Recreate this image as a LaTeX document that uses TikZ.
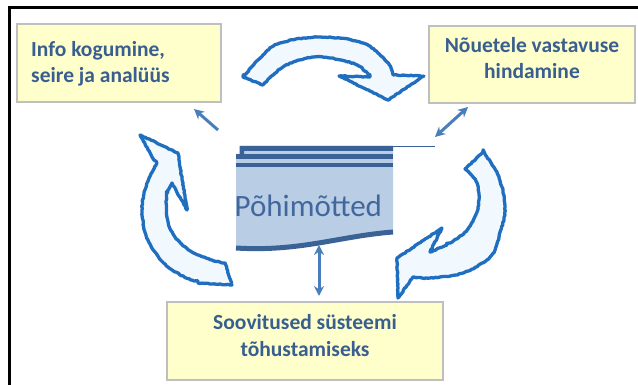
\documentclass[tikz,border=0pt]{standalone}
\usepackage{fontspec}
\setmainfont{Carlito}
\usetikzlibrary{arrows.meta,decorations.pathmorphing}
\definecolor{boxfill}{HTML}{FFFFCC}
\definecolor{boxline}{HTML}{BFBFBF}
\definecolor{txtblue}{HTML}{385F8F}
\definecolor{docfill}{HTML}{B9CDE5}
\definecolor{docdark}{HTML}{3B6296}
\definecolor{doctext}{HTML}{41679C}
\definecolor{arrblue}{HTML}{4A7EBB}
\definecolor{blkline}{HTML}{1F6EBF}
\definecolor{blkfill}{HTML}{F1F8FE}
\begin{document}
\begin{tikzpicture}[x=1pt,y=-1pt,
  ybox/.style={draw=boxline, fill=boxfill, line width=2.5pt, rectangle, inner sep=0pt},
  boxtxt/.style={text=txtblue, font=\fontsize{21.5}{26}\selectfont\bfseries, inner sep=0pt},
  blockarrow/.style={draw=blkline, fill=blkfill, line width=3.3pt, line join=round,
    decorate, decoration={random steps, segment length=2pt, amplitude=0.45pt}},
  linkone/.style={draw=arrblue, line width=3pt, -{Stealth[length=10pt,width=10pt]}},
  linktwo/.style={draw=arrblue, line width=3pt, {Stealth[length=10pt,width=10pt]}-{Stealth[length=10pt,width=10pt]}}
]
\useasboundingbox (0,0) rectangle (638,385);
\fill[white] (0,0) rectangle (638,385);
% frame
\draw[line width=3pt] (9,387) -- (9,8) -- (640,8);

% boxes
\node[ybox, minimum width=204pt, minimum height=78pt] (info) at (119,63) {};
\node[ybox, minimum width=206pt, minimum height=77pt] (nou) at (532,64.5) {};
\node[ybox, minimum width=276pt, minimum height=78pt] (soo) at (305,341) {};
\node[boxtxt, anchor=base west] (info1) at (31,57) {Info kogumine,};
\node[boxtxt, anchor=base west] (info2) at (31,83) {seire ja analüüs};
\node[boxtxt, anchor=base] (nou1) at (532,53) {Nõuetele vastavuse};
\node[boxtxt, anchor=base] (nou2) at (532,79) {hindamine};
\node[boxtxt, anchor=base] (soo1) at (305,329) {Soovitused süsteemi};
\node[boxtxt, anchor=base] (soo2) at (305,356) {tõhustamiseks};

% central document shape
\fill[docfill] (240,146) -- (393,146) -- (393,232)
  .. controls (340,236) and (300,252) .. (236,248) -- (236,154) -- (240,154) -- cycle;
\fill[docdark] (239.5,156) -- (239.5,146) -- (393,146) -- (393,151) -- (244,151) -- (244,156) -- cycle;
\fill[docdark] (236,154.5) rectangle (393,159);
\fill[docdark] (236,163) rectangle (393,167.5);
\draw[docdark, line width=1.2pt] (393,146.6) -- (435,146.6);
\draw[docdark, line width=5pt] (393,232) .. controls (340,236) and (300,252) .. (236,248);
\node[anchor=base west, text=doctext, font=\fontsize{31}{36}\selectfont, inner sep=0pt] (doc) at (234.5,217) {Põhimõtted};

% block arrows
\draw[blockarrow] plot[smooth, tension=0.6] coordinates {(243,77) (263,55) (280,43) (320,37) (363,43) (387,62) (393,75)}
  -- (424,76) -- (388,100) -- (339,76)
  -- plot[smooth, tension=0.6] coordinates {(370,77) (357,65) (330,58) (307,58) (283,67) (263,85)} -- cycle;
\draw[blockarrow] plot[smooth, tension=0.6] coordinates {(483,152) (498,175) (505,207) (499,237) (490,257) (463,273) (430,278) (413,277)}
  -- (398,298) -- (397,258) -- (442,228) -- (430,252)
  -- plot[smooth, tension=0.6] coordinates {(447,245) (467,230) (478,207) (477,183) (465,169)} -- cycle;
\draw[blockarrow] (140,135) -- (178,153) -- (187,210) -- (172,183)
  -- plot[smooth, tension=0.6] coordinates {(167,193) (167,217) (175,237) (192,252) (212,260) (225,263)}
  -- (232,285)
  -- plot[smooth, tension=0.6] coordinates {(198,283) (168,267) (148,240) (142,210) (147,183) (157,163)}
  -- (152,157) -- cycle;

% small connectors
\coordinate (c1a) at (218,130);
\coordinate (c1b) at (194,109);
\coordinate (c2a) at (435,137);
\coordinate (c2b) at (468,107);
\coordinate (c3a) at (319,245);
\coordinate (c3b) at (319,296);
\draw[linkone] (c1a) -- (c1b);
\draw[linktwo] (c2a) -- (c2b);
\draw[linktwo] (c3a) -- (c3b);
\end{tikzpicture}
\end{document}
